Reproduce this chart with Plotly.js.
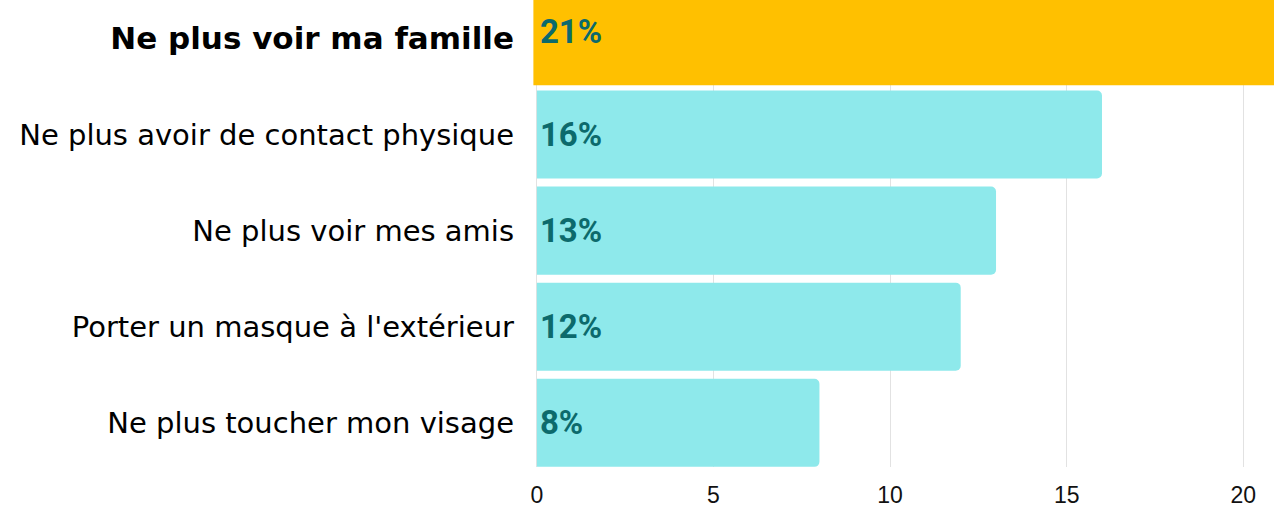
<!DOCTYPE html>
<html>
<head>
<meta charset="utf-8">
<script src="https://cdn.plot.ly/plotly-3.0.1.min.js"></script>
<style>html,body{margin:0;padding:0;background:#fff;}#chart{width:1274px;height:507px;}</style>
</head>
<body>
<div id="chart"></div>
<script>
const categories = ["Ne plus voir ma famille", "Ne plus avoir de contact physique", "Ne plus voir mes amis", "Porter un masque à l'extérieur", "Ne plus toucher mon visage"];
const values = [21, 16, 13, 12, 8];
const highlightIndex = 0;
const xTickVals = [0, 5, 10, 15, 20];

const hlCats = categories.filter((c, i) => i === highlightIndex);
const hlVals = values.filter((v, i) => i === highlightIndex);
const otherCats = categories.filter((c, i) => i !== highlightIndex);
const otherVals = values.filter((v, i) => i !== highlightIndex);

const labelFont = {family: "Roboto, 'Open Sans', sans-serif", size: 33, color: "#0c6a6c", weight: 700};

const traces = [
  {
    type: "bar", orientation: "h",
    y: hlCats, x: hlVals,
    width: 1.05, offset: -0.6,
    marker: {color: "#ffc000", line: {color: "#ffc000", width: 7}},
    text: hlVals.map(v => v + "%"),
    textposition: "inside", insidetextanchor: "start",
    textfont: labelFont, insidetextfont: labelFont,
    hoverinfo: "none", showlegend: false
  },
  {
    type: "bar", orientation: "h",
    y: otherCats, x: otherVals,
    marker: {color: "#8ee9eb", cornerradius: 5, line: {width: 0}},
    text: otherVals.map(v => v + "%"),
    textposition: "inside", insidetextanchor: "start",
    textfont: labelFont, insidetextfont: labelFont,
    hoverinfo: "none", showlegend: false
  }
];

const tickText = categories.map((c, i) => i === highlightIndex ? "<b><span style=\"font-size:31px\">" + c + "</span></b>" : c);

const layout = {
  width: 1274, height: 507,
  margin: {l: 533, r: 0, t: 0, b: 40, pad: 0},
  paper_bgcolor: "#ffffff", plot_bgcolor: "#ffffff",
  barmode: "overlay", bargap: 0.083,
  xaxis: {
    range: [-0.11, 20.87],
    tickvals: xTickVals,
    showgrid: true, gridcolor: "#e2e2e2", gridwidth: 1,
    zeroline: false, showline: false, ticks: "",
    ticklabelstandoff: 12,
    tickfont: {family: "'Liberation Sans', Arial, sans-serif", size: 23, color: "#111111"},
    fixedrange: true
  },
  yaxis: {
    type: "category",
    categoryorder: "array", categoryarray: categories,
    tickvals: categories, ticktext: tickText,
    range: [4.46, -0.40],
    showgrid: false, zeroline: false, showline: false, ticks: "",
    ticklabelstandoff: 18,
    tickfont: {family: "'DejaVu Sans', sans-serif", size: 29, color: "#000000"},
    automargin: false,
    fixedrange: true
  },
  font: {family: "'DejaVu Sans', sans-serif"}
};

Plotly.newPlot("chart", traces, layout, {displayModeBar: false, staticPlot: true});
</script>
</body>
</html>
